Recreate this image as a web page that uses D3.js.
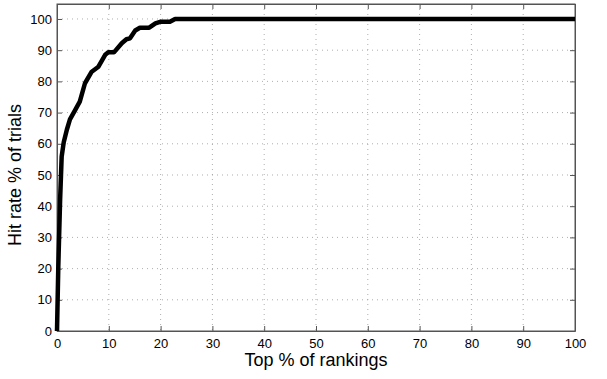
<!DOCTYPE html>
<html>
<head>
<meta charset="utf-8">
<script src="https://cdn.jsdelivr.net/npm/d3@7"></script>
<style>
  body { margin: 0; background: #fff; }
  text { font-family: "Liberation Sans", Arial, sans-serif; fill: #000; }
</style>
</head>
<body>
<div id="chart"></div>
<script>
// curve
var topPct = [0, 0.25, 0.6, 0.9, 1.3, 1.9, 2.5, 3.5, 4.4, 5.4, 6.7, 8.0, 9.3, 9.9, 11.0, 12.5, 13.4, 14.1, 15.1, 16.0, 17.8, 19.0, 19.9, 21.8, 22.8, 100];
var hitRate = [0, 20.6, 42, 55.9, 60.5, 64.5, 67.8, 70.8, 73.5, 79.4, 83.1, 84.7, 88.5, 89.3, 89.3, 92.2, 93.5, 93.8, 96.3, 97.2, 97.2, 98.6, 99.1, 99.1, 100, 100];
var xTicks = [0, 10, 20, 30, 40, 50, 60, 70, 80, 90, 100];
var yTicks = [0, 10, 20, 30, 40, 50, 60, 70, 80, 90, 100];

var width = 607, height = 379;
var margin = {left: 57, right: 32, top: 4, bottom: 48};
var w = width - margin.left - margin.right,
    h = height - margin.top - margin.bottom;

var svg = d3.select('#chart').append('svg')
  .attr('width', width)
  .attr('height', height);

var x = d3.scaleLinear().domain([0, 100]).range([0, w]);
var y = d3.scaleLinear().domain([0, 104.8]).range([h, 0]);

var g = svg.append('g')
  .attr('transform', 'translate(' + margin.left + ',' + margin.top + ')');

// dotted grid
g.append('g').selectAll('line')
  .data(xTicks.slice(1, -1))
  .enter().append('line')
  .attr('x1', function(d) { return x(d); })
  .attr('x2', function(d) { return x(d); })
  .attr('y1', 0).attr('y2', h)
  .attr('stroke', '#999').attr('stroke-width', 0.8)
  .attr('stroke-dasharray', '1,4');

g.append('g').selectAll('line')
  .data(yTicks.slice(1))
  .enter().append('line')
  .attr('x1', 0).attr('x2', w)
  .attr('y1', function(d) { return y(d); })
  .attr('y2', function(d) { return y(d); })
  .attr('stroke', '#999').attr('stroke-width', 0.8)
  .attr('stroke-dasharray', '1,4');

// axes with inward ticks on all sides
var xAxis = d3.axisBottom(x).tickValues(xTicks).tickSizeInner(-5).tickSizeOuter(0).tickPadding(8);
var yAxis = d3.axisLeft(y).tickValues(yTicks).tickSizeInner(-5).tickSizeOuter(0).tickPadding(5);

g.append('g').attr('transform', 'translate(0,' + h + ')').call(xAxis);
g.append('g').call(yAxis);
g.append('g').call(d3.axisTop(x).tickValues(xTicks).tickSizeInner(-5).tickSizeOuter(0).tickFormat(''));
g.append('g').attr('transform', 'translate(' + w + ',0)')
  .call(d3.axisRight(y).tickValues(yTicks).tickSizeInner(-5).tickSizeOuter(0).tickFormat(''));

g.selectAll('.domain').attr('stroke', '#555');
g.selectAll('.tick line').attr('stroke', '#555');
g.selectAll('.tick text').style('font-size', '13px');

g.append('rect')
  .attr('width', w).attr('height', h)
  .attr('fill', 'none').attr('stroke', '#555').attr('stroke-width', 1);

var line = d3.line()
  .x(function(d, i) { return x(topPct[i]); })
  .y(function(d) { return y(d); });

g.append('path')
  .datum(hitRate)
  .attr('d', line)
  .attr('fill', 'none')
  .attr('stroke', '#000')
  .attr('stroke-width', 4.5)
  .attr('stroke-linejoin', 'round');

svg.append('text')
  .attr('x', margin.left + w / 2)
  .attr('y', 366)
  .attr('text-anchor', 'middle')
  .style('font-size', '18px')
  .text('Top % of rankings');

svg.append('text')
  .attr('transform', 'translate(21,' + (margin.top + y(50)) + ') rotate(-90)')
  .attr('text-anchor', 'middle')
  .style('font-size', '18px')
  .text('Hit rate % of trials');
</script>
</body>
</html>
